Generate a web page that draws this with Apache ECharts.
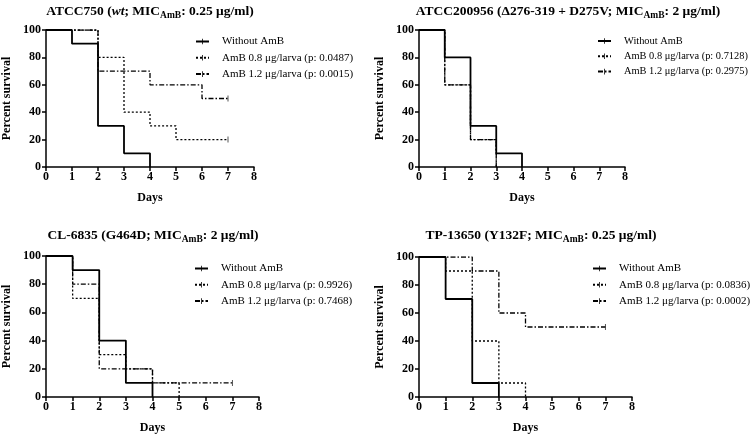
<!DOCTYPE html>
<html><head><meta charset="utf-8">
<script src="https://cdn.jsdelivr.net/npm/echarts@6/dist/echarts.min.js"></script>
<style>html,body{margin:0;padding:0;background:#fff}#c{width:750px;height:435px}</style>
</head><body><div id="c"></div>
<script>
// Kaplan-Meier step data: [day, percent survival]
const xTicks = [0,1,2,3,4,5,6,7,8];
const yTicks = [0,20,40,60,80,100];

const titles = [
  ['ATCC750 (', 'wt', '; MIC', 'AmB', ': 0.25 μg/ml)'],
  ['ATCC200956 (Δ276-319 + D275V; MIC', '', '', 'AmB', ': 2 μg/ml)'],
  ['CL-6835 (G464D; MIC', '', '', 'AmB', ': 2 μg/ml)'],
  ['TP-13650 (Y132F; MIC', '', '', 'AmB', ': 0.25 μg/ml)']
];
const seriesNames = [
  ['Without AmB', 'AmB 0.8 μg/larva (p: 0.0487)', 'AmB 1.2 μg/larva (p: 0.0015)'],
  ['Without AmB', 'AmB 0.8 μg/larva (p: 0.7128)', 'AmB 1.2 μg/larva (p: 0.2975)'],
  ['Without AmB', 'AmB 0.8 μg/larva (p: 0.9926)', 'AmB 1.2 μg/larva (p: 0.7468)'],
  ['Without AmB', 'AmB 0.8 μg/larva (p: 0.0836)', 'AmB 1.2 μg/larva (p: 0.0002)']
];

const p1Without = [[0,100],[1,90],[2,30],[3,10],[4,0]];
const p1Amb08   = [[0,100],[2,80],[3,40],[4,30],[5,20],[7,20]];
const p1Amb12   = [[0,100],[2,70],[4,60],[6,50],[7,50]];

const p2Without = [[0,100],[1,80],[2,30],[3,10],[4,0]];
const p2Amb08   = [[0,100],[1,60],[2,20],[3,0]];
const p2Amb12   = [[0,100],[1,60],[2,20],[3,0]];

const p3Without = [[0,100],[1,90],[2,40],[3,10],[4,0]];
const p3Amb08   = [[0,100],[1,70],[2,30],[3,20],[4,10],[5,0]];
const p3Amb12   = [[0,100],[1,80],[2,20],[4,10],[7,10]];

const p4Without = [[0,100],[1,70],[2,10],[3,0]];
const p4Amb08   = [[0,100],[1,90],[2,40],[3,10],[4,0]];
const p4Amb12   = [[0,100],[2,90],[3,60],[4,50],[7,50]];

const panelData = [
  [p1Without, p1Amb08, p1Amb12],
  [p2Without, p2Amb08, p2Amb12],
  [p3Without, p3Amb08, p3Amb12],
  [p4Without, p4Amb08, p4Amb12]
];

// layout
const grids = [
  {left: 46, top: 30, width: 208, height: 137},
  {left: 419, top: 30, width: 206, height: 137},
  {left: 45, top: 256, width: 214, height: 142},
  {left: 419, top: 257, width: 213, height: 141}
];
const titlePos = [[145, -3], [563, -3], [148, 221], [536, 221]];
const legendPos = [[195, 36], [597, 36], [194, 263], [592, 263]];
const legendFont = [11, 10.4, 11, 11];

const FONT = 'Liberation Serif';
// censor tick: thin vertical bar centred in a square box
const tickPath = 'path://M0,0L0,0M10,10L10,10M4.3,0L5.7,0L5.7,10L4.3,10Z';
const lineStyles = [
  {type: 'solid', width: 1.8},
  {type: [2, 2], width: 1.3},
  {type: [5, 2, 1.5, 2], width: 1.3}
];

const option = {
  animation: false,
  backgroundColor: '#fff',
  title: [], grid: [], xAxis: [], yAxis: [], legend: [], series: []
};

const rich = {
  b: {fontFamily: FONT, fontWeight: 'bold', fontSize: 13.5, color: '#000'},
  i: {fontFamily: FONT, fontWeight: 'bold', fontStyle: 'italic', fontSize: 13.5, color: '#000'},
  s: {fontFamily: FONT, fontWeight: 'bold', fontSize: 9.5, color: '#000', padding: [9, 0, 0, 0]}
};

for (let p = 0; p < 4; p++) {
  const t = titles[p];
  let txt = '{b|' + t[0] + '}';
  if (t[1]) txt += '{i|' + t[1] + '}';
  if (t[2]) txt += '{b|' + t[2] + '}';
  txt += '{s|' + t[3] + '}{b|' + t[4] + '}';
  option.title.push({
    text: txt, left: titlePos[p][0], top: titlePos[p][1], textAlign: 'center',
    textStyle: {rich: rich, fontFamily: FONT, fontSize: 13.5, fontWeight: 'bold'}
  });
  option.grid.push(Object.assign({containLabel: false}, grids[p]));
  option.xAxis.push({
    gridIndex: p, type: 'value', min: xTicks[0], max: xTicks[xTicks.length - 1], interval: 1,
    name: 'Days', nameLocation: 'middle', nameGap: 25,
    nameTextStyle: {fontFamily: FONT, fontWeight: 'bold', fontSize: 12, color: '#000'},
    axisLine: {show: true, onZero: false, lineStyle: {color: '#000', width: 1.5}},
    axisTick: {show: true, length: 4, lineStyle: {color: '#000', width: 1.5}},
    axisLabel: {fontFamily: FONT, fontWeight: 'bold', fontSize: 12, color: '#000', margin: 4},
    splitLine: {show: false}
  });
  option.yAxis.push({
    gridIndex: p, type: 'value', min: yTicks[0], max: yTicks[yTicks.length - 1], interval: 20,
    name: 'Percent survival', nameLocation: 'middle', nameGap: 33, nameRotate: 90,
    nameTextStyle: {fontFamily: FONT, fontWeight: 'bold', fontSize: 12, color: '#000'},
    axisLine: {show: true, onZero: false, lineStyle: {color: '#000', width: 1.5}},
    axisTick: {show: true, length: 4, lineStyle: {color: '#000', width: 1.5}},
    axisLabel: {fontFamily: FONT, fontWeight: 'bold', fontSize: 12, color: '#000', margin: 5},
    splitLine: {show: false}
  });
  option.legend.push({
    orient: 'vertical', left: legendPos[p][0], top: legendPos[p][1],
    itemWidth: 13, itemHeight: 7, itemGap: 5.3, padding: 0,
    data: seriesNames[p].map(n => ({name: n})),
    textStyle: {fontFamily: FONT, fontSize: legendFont[p], color: '#000', padding: [0, 0, 0, 8]},
    selectedMode: false
  });
  const censor = [];
  for (let k = 0; k < 3; k++) {
    const d = panelData[p][k];
    option.series.push({
      type: 'line', name: seriesNames[p][k], xAxisIndex: p, yAxisIndex: p,
      step: 'end', data: d, symbol: tickPath, symbolSize: 6,
      showSymbol: false,
      lineStyle: Object.assign({color: '#000'}, lineStyles[k]),
      itemStyle: {color: '#000', borderWidth: 0}, z: 3 - k
    });
    const last = d[d.length - 1];
    if (last[1] > 0) censor.push(last);
  }
  option.series.push({
    type: 'scatter', xAxisIndex: p, yAxisIndex: p, data: censor,
    symbol: tickPath, symbolSize: 6, itemStyle: {color: '#000'}, silent: true
  });
}

const chart = echarts.init(document.getElementById('c'), null, {renderer: 'canvas'});
chart.setOption(option);
</script>
</body></html>
